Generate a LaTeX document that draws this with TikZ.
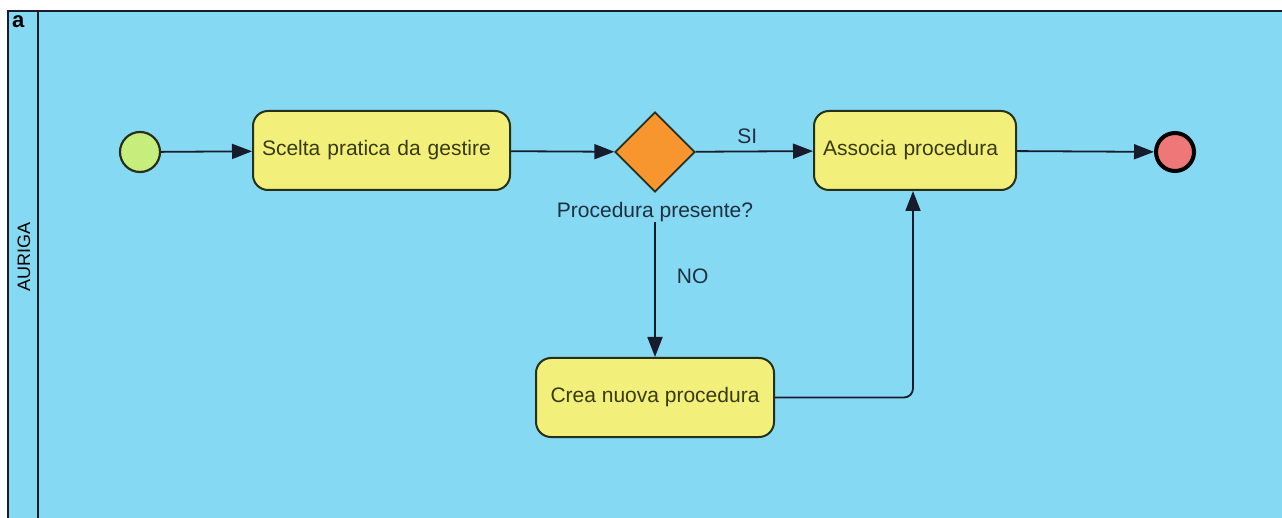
\documentclass[tikz,border=0pt]{standalone}
\usepackage{fontspec}
\setmainfont{Liberation Sans}
\usetikzlibrary{arrows.meta,shapes.geometric}
\definecolor{poolbg}{HTML}{86D9F3}
\definecolor{taskfill}{HTML}{F2F07A}
\definecolor{taskline}{HTML}{26301A}
\definecolor{tasktext}{HTML}{3A3A10}
\definecolor{startfill}{HTML}{C6EE7C}
\definecolor{endfill}{HTML}{EE7878}
\definecolor{gatefill}{HTML}{F7952F}
\definecolor{flowline}{HTML}{161C2C}
\definecolor{labeltext}{HTML}{1E3040}
\tikzset{
  task/.style={draw=taskline, fill=taskfill, rounded corners=15pt, line width=2pt,
    minimum height=79pt, text=tasktext, font=\fontsize{21}{24}\selectfont, inner sep=0pt},
  startev/.style={circle, draw=taskline, fill=startfill, line width=2.2pt, minimum size=40pt, inner sep=0pt},
  endev/.style={circle, draw=black, fill=endfill, line width=4pt, minimum size=38pt, inner sep=0pt},
  gateway/.style={diamond, draw=taskline, fill=gatefill, line width=1.8pt, minimum size=80pt, inner sep=0pt, aspect=1},
  flow/.style={draw=flowline, line width=1.8pt, -{Triangle[length=20pt,width=15pt]}},
  lbl/.style={text=labeltext, font=\fontsize{21}{24}\selectfont, inner sep=0pt}
}
\begin{document}
\begin{tikzpicture}[x=1pt,y=-1pt]
\useasboundingbox (0,0) rectangle (1282,518);
\fill[white] (0,0) rectangle (1282,518);
% pool and lane header
\fill[poolbg] (8,11) rectangle (1290,530);
\draw[flowline, line width=2pt] (8,530) -- (8,11) -- (1290,11);
\draw[flowline, line width=2pt] (38,11) -- (38,530);
\node[anchor=north west, text=black, font=\fontsize{22}{24}\selectfont\bfseries, inner sep=0pt] (pool) at (12,15) {a};
\node[rotate=90, lbl, text=black, font=\fontsize{18}{20}\selectfont] (lane) at (24,257) {AURIGA};
% flow elements
\node[startev] (start) at (140,152) {};
\node[task, minimum width=257pt, align=left, text width=239pt] (scelta) at (381.5,150.5) {Scelta pratica da gestire};
\node[gateway] (gw) at (655,152) {};
\node[lbl] (gwlbl) at (655,212) {Procedura presente?};
\node[task, minimum width=202pt, align=left, text width=184pt] (associa) at (915,150.5) {Associa procedura};
\node[endev] (end) at (1175,152) {};
\node[task, minimum width=238pt] (crea) at (655,397.5) {Crea nuova procedura};
\coordinate (gwout) at (655,222);
\coordinate (bend) at (913,397.5);
% sequence flows
\draw[flow] (start) -- (scelta);
\draw[flow] (scelta) -- (gw);
\draw[flow] (gw) -- node[lbl, above=7pt, pos=0.44] (si) {SI} (associa);
\draw[flow] (associa) -- (end);
\draw[flow] (gwout) -- node[lbl, right=21pt, pos=0.4] (no) {NO} (crea);
\draw[flow, rounded corners=9pt] (crea.east) -- (bend) -- (associa.south -| bend);
\end{tikzpicture}
\end{document}
